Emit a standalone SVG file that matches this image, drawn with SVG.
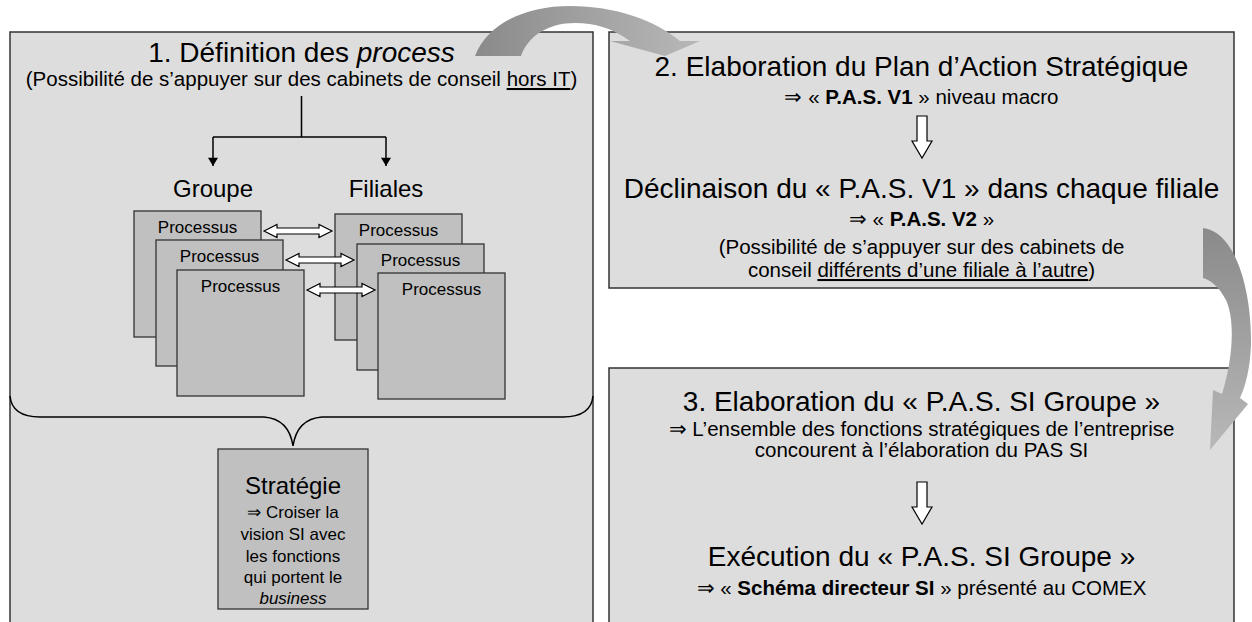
<svg xmlns="http://www.w3.org/2000/svg" width="1252" height="622" viewBox="0 0 1252 622">
<style>
.panel{fill:#dddddd;stroke:#333333;stroke-width:1.5}
.proc{fill:#c0c0c0;stroke:#333333;stroke-width:1.3}
.big{font-family:"Liberation Sans",Arial,sans-serif;font-size:28px;fill:#000;text-anchor:middle}
.mid{font-family:"Liberation Sans",Arial,sans-serif;font-size:20.5px;fill:#000;text-anchor:middle}
.med{font-family:"Liberation Sans",Arial,sans-serif;font-size:24px;fill:#000;text-anchor:middle}
.sm{font-family:"Liberation Sans",Arial,sans-serif;font-size:17px;fill:#000;text-anchor:middle}
.plabel{font-family:"Liberation Sans",Arial,sans-serif;font-size:17px;fill:#000;text-anchor:middle}
.line{fill:none;stroke:#000;stroke-width:1.5}
.dbl{fill:#ffffff;stroke:#000;stroke-width:1.2}
.u{text-decoration:underline}
</style>
<defs>
<marker id="ah" viewBox="0 0 10 12" refX="10" refY="6" markerWidth="12" markerHeight="10" markerUnits="userSpaceOnUse" orient="auto">
<path d="M0,0 L10,6 L0,12 Z" fill="#000"/>
</marker>
<linearGradient id="g1" x1="0" y1="0" x2="1" y2="0">
<stop offset="0" stop-color="#8a8a8a"/>
<stop offset="1" stop-color="#b8b8b8"/>
</linearGradient>
<linearGradient id="g2" x1="0" y1="0" x2="0" y2="1">
<stop offset="0" stop-color="#8a8a8a"/>
<stop offset="1" stop-color="#b8b8b8"/>
</linearGradient>
</defs>
<rect width="1252" height="622" fill="#ffffff"/>

<g id="panel1">
<rect class="panel" x="10" y="32" width="583" height="620"/>
<text class="big" x="301.5" y="62">1. Définition des <tspan font-style="italic">process</tspan></text>
<text class="mid" x="301.5" y="86" font-size="21px">(Possibilité de s’appuyer sur des cabinets de conseil <tspan class="u">hors IT</tspan>)</text>
<text class="med" x="213" y="197">Groupe</text>
<text class="med" x="386" y="197">Filiales</text>
</g>

<g id="groupe">
<rect class="proc" x="134" y="211" width="127" height="126"/>
<text class="plabel" x="197.5" y="233">Processus</text>
<rect class="proc" x="156" y="240" width="127" height="126"/>
<text class="plabel" x="219.5" y="262">Processus</text>
<rect class="proc" x="177" y="270" width="127" height="126"/>
<text class="plabel" x="240.5" y="292">Processus</text>
</g>

<g id="filiales">
<rect class="proc" x="335" y="214" width="127" height="126"/>
<text class="plabel" x="398.5" y="236">Processus</text>
<rect class="proc" x="357" y="244" width="127" height="126"/>
<text class="plabel" x="420.5" y="266">Processus</text>
<rect class="proc" x="378" y="273" width="127" height="126"/>
<text class="plabel" x="441.5" y="295">Processus</text>
</g>

<g id="strategie">
<rect class="proc" x="218" y="449" width="150" height="160"/>
<text class="med" x="293" y="494">Stratégie</text>
<text class="sm" x="293" y="518">⇒ Croiser la</text>
<text class="sm" x="293" y="540">vision SI avec</text>
<text class="sm" x="293" y="561.5">les fonctions</text>
<text class="sm" x="293" y="583">qui portent le</text>
<text class="sm" x="293" y="604" font-style="italic">business</text>
</g>

<g id="panel2">
<rect class="panel" x="609" y="32" width="625" height="256"/>
<text class="big" x="921.5" y="76">2. Elaboration du Plan d’Action Stratégique</text>
<text class="mid" x="921.5" y="104">⇒ « <tspan font-weight="bold">P.A.S. V1</tspan> » niveau macro</text>
<text class="big" x="921.5" y="198">Déclinaison du « P.A.S. V1 » dans chaque filiale</text>
<text class="mid" x="921.5" y="226">⇒ « <tspan font-weight="bold">P.A.S. V2</tspan> »</text>
<text class="mid" x="921.5" y="254">(Possibilité de s’appuyer sur des cabinets de</text>
<text class="mid" x="921.5" y="277">conseil <tspan class="u">différents d’une filiale à l’autre</tspan>)</text>
</g>

<g id="panel3">
<rect class="panel" x="609" y="368" width="625" height="280"/>
<text class="big" x="921.5" y="411">3. Elaboration du « P.A.S. SI Groupe »</text>
<text class="mid" x="921.5" y="436">⇒ L’ensemble des fonctions stratégiques de l’entreprise</text>
<text class="mid" x="921.5" y="457">concourent à l’élaboration du PAS SI</text>
<text class="big" x="921.5" y="566">Exécution du « P.A.S. SI Groupe »</text>
<text class="mid" x="921.5" y="595">⇒ « <tspan font-weight="bold">Schéma directeur SI</tspan> » présenté au COMEX</text>
</g>

<g id="connectors">
<path class="line" d="M301.5,96 V137 M213,137 H386"/>
<path class="line" d="M213,137 V166" marker-end="url(#ah)"/>
<path class="line" d="M386,137 V166" marker-end="url(#ah)"/>
<path class="dbl" d="M264,231 L277,224.5 L277,228 L319,228 L319,224.5 L332,231 L319,237.5 L319,234 L277,234 L277,237.5 Z"/>
<path class="dbl" d="M286,260 L299,253.5 L299,257 L341,257 L341,253.5 L354,260 L341,266.5 L341,263 L299,263 L299,266.5 Z"/>
<path class="dbl" d="M307,290 L320,283.5 L320,287 L362,287 L362,283.5 L375,290 L362,296.5 L362,293 L320,293 L320,296.5 Z"/>
<path class="line" stroke-width="1.3" d="M10,396 Q12,417 40,417 L264,417 Q289,419 293,446 Q297,419 322,417 L563,417 Q591,417 593,396"/>
<path class="dbl" d="M917,116 H927 V141 H932 L922,158 L912,141 H917 Z"/>
<path class="dbl" d="M917,482 H927 V507 H932 L922,524 L912,507 H917 Z"/>
<path fill="url(#g1)" d="M475,56 C488,22 528,6 570,6 C615,6 655,20 680,41 L700,41 L665,56 L610,41 L630,41 C612,28 595,23 575,23 C548,23 528,36 521,56 Z"/>
<path fill="url(#g2)" d="M1203,228 C1235,231 1252,290 1251,345 C1250,368 1246,385 1240,398 L1248,404 L1210,450 L1213,390 L1222,394 C1232,362 1236,322 1226,300 C1219,287 1211,280 1203,278 Z"/>
</g>
</svg>
